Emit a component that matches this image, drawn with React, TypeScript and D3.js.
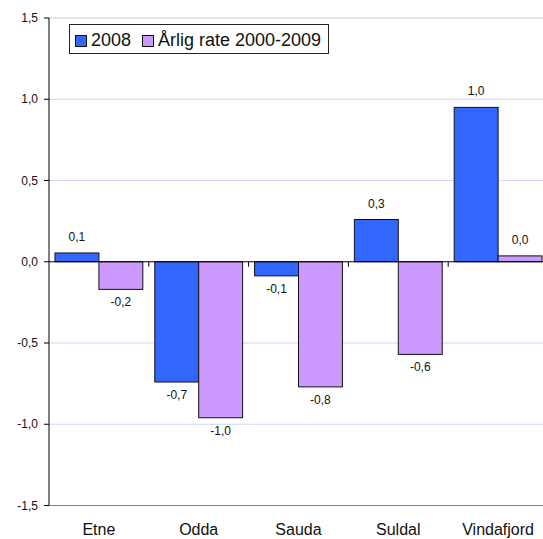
import React, { useRef, useEffect } from 'react';
import * as d3 from 'd3';

const categories = ['Etne', 'Odda', 'Sauda', 'Suldal', 'Vindafjord'];
const seriesNames = ['2008', 'Årlig rate 2000-2009'];
const values2008 = [0.054, -0.74, -0.087, 0.26, 0.95];
const valuesRate = [-0.17, -0.96, -0.77, -0.57, 0.036];
const yTicks = [-1.5, -1.0, -0.5, 0.0, 0.5, 1.0, 1.5];
const colors = ['#3366ff', '#cc99ff'];

const WIDTH = 543;
const HEIGHT = 539;
const FONT = 'Liberation Sans, Arial, sans-serif';

const fmt = (v: number) => (Math.round(v * 10 + 1e-9) / 10).toFixed(1).replace('.', ',');

const App: React.FC = () => {
    const svgRef = useRef<SVGSVGElement>(null);

    useEffect(() => {
        if (!svgRef.current) return;
        const svg = d3.select(svgRef.current);
        svg.selectAll('*').remove();

        const left = 49;
        const right = 548; // plot area runs past the picture edge
        const top = 18;
        const bottom = 505.5;

        const y = d3.scaleLinear().domain([-1.5, 1.5]).range([bottom, top]);
        const x = d3.scaleBand<string>()
            .domain(categories)
            .range([left, right])
            .paddingInner(0.12)
            .paddingOuter(0.06);
        const xSub = d3.scaleBand<string>()
            .domain(seriesNames)
            .range([0, x.bandwidth()]);

        const step = (right - left) / categories.length;

        // gridlines
        svg.append('g')
            .selectAll('line')
            .data(yTicks.filter(t => t !== 0 && t !== -1.5))
            .join('line')
            .attr('x1', left)
            .attr('x2', right)
            .attr('y1', d => y(d))
            .attr('y2', d => y(d))
            .attr('stroke', t => t === 1.5 ? '#c8c8d8' : '#d4d4fa')
            .attr('stroke-width', 1);

        // bottom plot edge
        svg.append('line')
            .attr('x1', left).attr('x2', right)
            .attr('y1', y(-1.5)).attr('y2', y(-1.5))
            .attr('stroke', '#808080');

        // bars
        const data = categories.map((c, i) => ({ c, vals: [values2008[i], valuesRate[i]] }));
        data.forEach(d => {
            d.vals.forEach((v, si) => {
                const bx = (x(d.c) || 0) + (xSub(seriesNames[si]) || 0);
                const bw = xSub.bandwidth();
                svg.append('rect')
                    .attr('x', bx)
                    .attr('y', Math.min(y(v), y(0)))
                    .attr('width', bw)
                    .attr('height', Math.abs(y(v) - y(0)))
                    .attr('fill', colors[si])
                    .attr('stroke', '#111')
                    .attr('stroke-width', 1);
                svg.append('text')
                    .attr('x', bx + bw / 2)
                    .attr('y', v >= 0 ? y(v) - 12 : y(v) + 17)
                    .attr('text-anchor', 'middle')
                    .attr('font-family', FONT)
                    .attr('font-size', 12)
                    .attr('fill', '#111')
                    .text(fmt(v));
            });
        });

        // zero line with category ticks
        svg.append('line')
            .attr('x1', left).attr('x2', right)
            .attr('y1', y(0)).attr('y2', y(0))
            .attr('stroke', '#000');
        svg.append('g')
            .selectAll('line')
            .data(d3.range(1, categories.length))
            .join('line')
            .attr('x1', k => left + k * step)
            .attr('x2', k => left + k * step)
            .attr('y1', y(0))
            .attr('y2', y(0) + 5)
            .attr('stroke', '#000');

        // y axis
        const yAxis = svg.append('g').attr('transform', `translate(${left},0)`);
        yAxis.append('line')
            .attr('x1', 0).attr('x2', 0)
            .attr('y1', top).attr('y2', bottom)
            .attr('stroke', '#000');
        yTicks.forEach(t => {
            yAxis.append('line')
                .attr('x1', -5).attr('x2', 0)
                .attr('y1', y(t)).attr('y2', y(t))
                .attr('stroke', '#000');
            yAxis.append('text')
                .attr('x', -11)
                .attr('y', y(t) + 4)
                .attr('text-anchor', 'end')
                .attr('font-family', FONT)
                .attr('font-size', 12)
                .attr('fill', '#111')
                .text(fmt(t));
        });

        // category labels
        svg.append('g')
            .selectAll('text')
            .data(categories)
            .join('text')
            .attr('x', d => (x(d) || 0) + x.bandwidth() / 2)
            .attr('y', 535)
            .attr('text-anchor', 'middle')
            .attr('font-family', FONT)
            .attr('font-size', 16)
            .attr('fill', '#111')
            .text(d => d);

        // legend
        const lg = svg.append('g');
        lg.append('rect')
            .attr('x', 69.5).attr('y', 24.5)
            .attr('width', 259).attr('height', 29)
            .attr('fill', '#fff')
            .attr('stroke', '#222');
        const legendX = [75, 142];
        seriesNames.forEach((s, i) => {
            lg.append('rect')
                .attr('x', legendX[i] + 0.5).attr('y', 35.5)
                .attr('width', 11).attr('height', 11)
                .attr('fill', colors[i])
                .attr('stroke', '#111');
            lg.append('text')
                .attr('x', legendX[i] + 16)
                .attr('y', 46)
                .attr('font-family', FONT)
                .attr('font-size', 18)
                .attr('fill', '#111')
                .text(s);
        });
    }, []);

    return (
        <svg
            ref={svgRef}
            width={WIDTH}
            height={HEIGHT}
            style={{ position: 'absolute', top: 0, left: 0, background: '#fff' }}
        />
    );
};

export default App;
